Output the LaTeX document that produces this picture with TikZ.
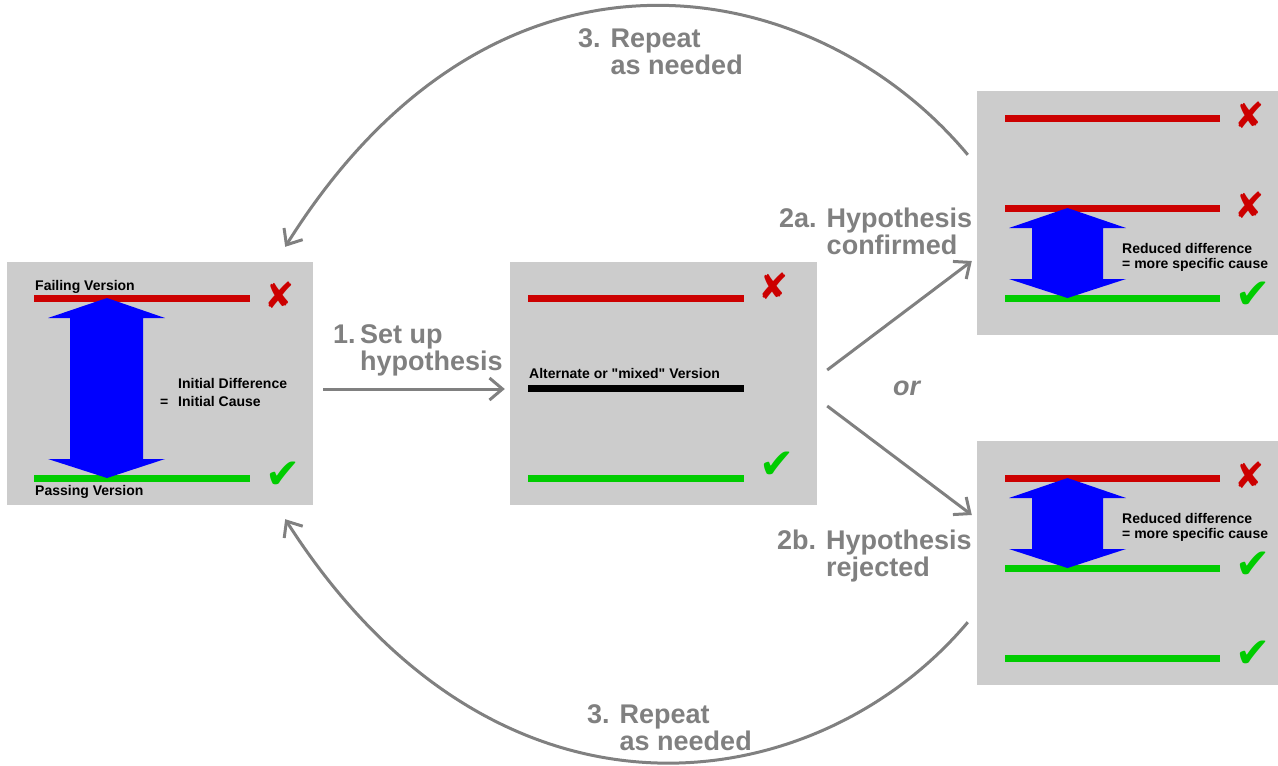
\documentclass[tikz,border=0pt]{standalone}
\usepackage{fontspec}
\setmainfont{Liberation Sans}
\newfontfamily\marksfont{DejaVu Sans}
\usetikzlibrary{arrows.meta}
\definecolor{boxgray}{HTML}{CCCCCC}
\definecolor{flowgray}{HTML}{808080}
\definecolor{failred}{HTML}{CC0000}
\definecolor{passgreen}{HTML}{00CC00}
\definecolor{diffblue}{HTML}{0000FF}
\tikzset{%
  stagebox/.style={fill=boxgray, minimum width=306pt, minimum height=243pt, inner sep=0pt},
  flowedge/.style={->, draw=flowgray, line width=3pt, >={Straight Barb[length=13pt,width=22pt]}},
  failbar/.style={draw=failred, line width=7pt},
  passbar/.style={draw=passgreen, line width=7pt},
  mixbar/.style={draw=black, line width=7pt},
  failmark/.style={text=failred, font=\marksfont\fontsize{36}{36}\selectfont, inner sep=0pt},
  passmark/.style={text=passgreen, font=\marksfont\fontsize{42}{42}\selectfont, inner sep=0pt},
  smalltext/.style={font=\bfseries\fontsize{14}{15}\selectfont, anchor=base west, inner sep=0pt},
  steplabel/.style={text=flowgray, font=\bfseries\fontsize{27}{26}\selectfont, anchor=base west, inner sep=0pt}
}

\begin{document}
\begin{tikzpicture}[x=1pt, y=-1pt]
  \useasboundingbox (0,0) rectangle (1278,766);
  % the four stages
  \node[stagebox] (initial) at (160,383.5) {};
  \node[stagebox, minimum width=307pt] (mixed) at (663.5,383.5) {};
  \node[stagebox, minimum width=301pt, minimum height=244pt] (confirmed) at (1127.5,213) {};
  \node[stagebox, minimum width=301pt, minimum height=244pt] (rejected) at (1127.5,563) {};

  % initial difference
  \draw[failbar] (34,298.5) -- (250,298.5);
  \draw[passbar] (34,478.5) -- (250,478.5);
  \fill[diffblue] (107,298) -- (165,318) -- (143,318) -- (143,459) -- (165,459) -- (107,478)
    -- (48,459) -- (70,459) -- (70,318) -- (48,318) -- cycle;
  \node[smalltext] (failname) at (35,290) {Failing Version};
  \node[smalltext] (passname) at (35,495) {Passing Version};
  \node[smalltext] (initdiff) at (178,388) {Initial Difference};
  \node[smalltext] (initcause) at (178,406) {Initial Cause};
  \node[smalltext] (initeq) at (160,406) {=};
  \node[failmark] (x1) at (280,295) {✘};
  \node[passmark] (v1) at (283,475) {✔};

  % mixed version
  \draw[failbar] (528,298.5) -- (744,298.5);
  \draw[mixbar] (528,388.5) -- (744,388.5);
  \draw[passbar] (528,478.5) -- (744,478.5);
  \node[smalltext] (mixname) at (529,378) {Alternate or \textquotedbl mixed\textquotedbl{} Version};
  \node[failmark] (x2) at (774,286) {✘};
  \node[passmark] (v2) at (777,465) {✔};

  % confirmed
  \draw[failbar] (1005,118.5) -- (1220,118.5);
  \draw[failbar] (1005,208.5) -- (1220,208.5);
  \draw[passbar] (1005,298.5) -- (1220,298.5);
  \node[failmark] (x3) at (1250,115) {✘};
  \node[failmark] (x4) at (1250,205) {✘};
  \node[passmark] (v3) at (1253,295) {✔};

  % rejected
  \draw[failbar] (1005,478.5) -- (1220,478.5);
  \draw[passbar] (1005,568.5) -- (1220,568.5);
  \draw[passbar] (1005,658.5) -- (1220,658.5);
  \node[failmark] (x5) at (1250,475) {✘};
  \node[passmark] (v4) at (1253,565) {✔};
  \node[passmark] (v5) at (1253,654) {✔};

  \foreach \dy in {0,270} {
    \fill[diffblue] (1067.5,208+\dy) -- (1126,228+\dy) -- (1103,228+\dy) -- (1103,279+\dy)
      -- (1126,279+\dy) -- (1067.5,298+\dy) -- (1009,279+\dy) -- (1032,279+\dy)
      -- (1032,228+\dy) -- (1009,228+\dy) -- cycle;
    \node[smalltext] at (1122,253+\dy) {Reduced difference};
    \node[smalltext] at (1122,268+\dy) {= more specific cause};
  }

  % flow
  \draw[flowedge, shorten <=10pt, shorten >=5pt] ([yshift=-5.5pt]initial.east) -- ([yshift=-5.5pt]mixed.west);
  \draw[flowedge] ([shift={(10,-13.5)}]mixed.east) -- ([shift={(-5,48)}]confirmed.west);
  \draw[flowedge] ([shift={(10,22.5)}]mixed.east) -- ([shift={(-5,-48)}]rejected.west);
  \draw[flowedge] ([shift={(-9,64)}]confirmed.north west)
    .. controls +(-150,-180) and +(213,-340) .. ([shift={(-28,-15)}]initial.north east);
  \draw[flowedge] ([shift={(-9,-63)}]rejected.south west)
    .. controls +(-150,178) and +(213,333) .. ([shift={(-28,14)}]initial.south east);

  \node[steplabel] (setup) at (333,343) {\begin{tabular}[t]{@{}l@{\,}l@{}}1. & Set up\\ & hypothesis\end{tabular}};
  \node[steplabel] (yes) at (779,227) {\begin{tabular}[t]{@{}l@{ }l@{}}2a. & Hypothesis\\ & confirmed\end{tabular}};
  \node[steplabel] (no) at (777,549) {\begin{tabular}[t]{@{}l@{ }l@{}}2b. & Hypothesis\\ & rejected\end{tabular}};
  \node[steplabel] (again) at (578,47) {\begin{tabular}[t]{@{}l@{ }l@{}}3. & Repeat\\ & as needed\end{tabular}};
  \node[steplabel] (again2) at (587,723) {\begin{tabular}[t]{@{}l@{ }l@{}}3. & Repeat\\ & as needed\end{tabular}};
  \node[steplabel, font=\bfseries\itshape\fontsize{27}{26}\selectfont] (or) at (893,395) {or};
\end{tikzpicture}
\end{document}
